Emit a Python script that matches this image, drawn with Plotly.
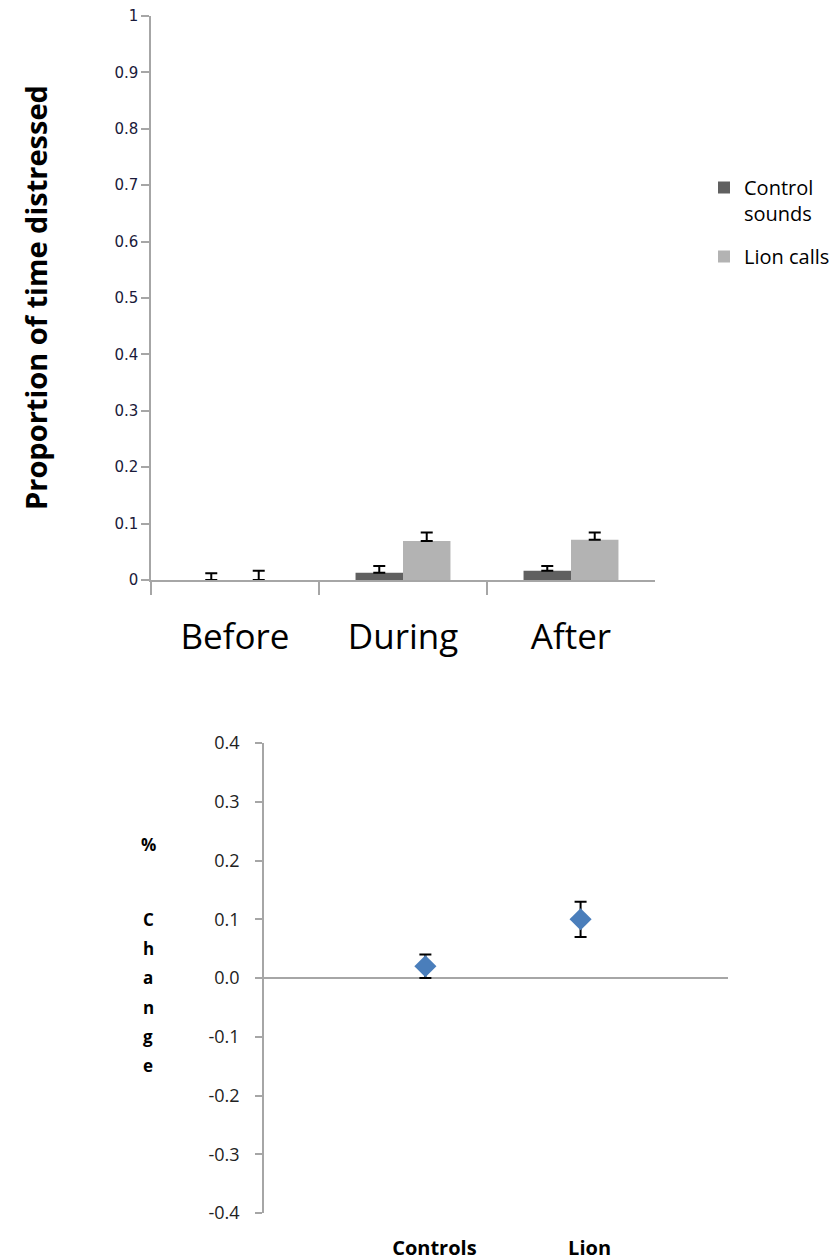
import plotly.graph_objects as go

# ---------------- data ----------------
periods = ["Before", "During", "After"]
control_values = [0.0, 0.013, 0.0165]
control_errors = [0.012, 0.012, 0.0085]
lion_values = [0.0, 0.069, 0.0715]
lion_errors = [0.0165, 0.015, 0.0125]

groups = ["Controls", "Lion"]
group_x = [1, 2]
change_values = [0.02, 0.10]
change_errors = [0.02, 0.03]

y1_tick_values = [0, 0.1, 0.2, 0.3, 0.4, 0.5, 0.6, 0.7, 0.8, 0.9, 1]
y1_tick_labels = ["0", "0.1", "0.2", "0.3", "0.4", "0.5", "0.6", "0.7", "0.8", "0.9", "1"]
y2_tick_values = [-0.4, -0.3, -0.2, -0.1, 0.0, 0.1, 0.2, 0.3, 0.4]
y2_tick_labels = ["-0.4", "-0.3", "-0.2", "-0.1", "0.0", "0.1", "0.2", "0.3", "0.4"]

W, H = 835, 1260
def px_x(p):
    return p / W
def px_y(p):
    return 1 - p / H

CAL = "'Open Sans', Lato, sans-serif"
VER = "'DejaVu Sans', Verdana, sans-serif"
AXIS_COLOR = "#a6a6a6"

fig = go.Figure()

fig.add_trace(go.Bar(
    x=periods, y=control_values, name="Control<br>sounds", legendgroup="control",
    marker=dict(color="#606060", line=dict(width=0)),
    error_y=dict(type="data", symmetric=False, array=control_errors,
                 arrayminus=[0] * len(control_errors),
                 color="black", thickness=2, width=6),
    xaxis="x", yaxis="y",
))
fig.add_trace(go.Bar(
    x=periods, y=lion_values, name="Lion calls", legendgroup="lion",
    marker=dict(color="#b3b3b3", line=dict(width=0)),
    error_y=dict(type="data", symmetric=False, array=lion_errors,
                 arrayminus=[0] * len(lion_errors),
                 color="black", thickness=2, width=6),
    xaxis="x", yaxis="y",
))

fig.add_trace(go.Scatter(
    x=group_x, y=change_values, mode="markers", showlegend=False,
    marker=dict(symbol="diamond", size=17, color="#4a7ebb", line=dict(width=0)),
    error_y=dict(type="data", array=change_errors, color="black", thickness=2, width=6),
    xaxis="x2", yaxis="y2",
))

annotations = [
    dict(text="<b>Proportion of time distressed</b>", x=px_x(35), y=px_y(298),
         xref="paper", yref="paper", textangle=-90, showarrow=False,
         font=dict(family=CAL, size=29, color="black"),
         xanchor="center", yanchor="middle"),
]
letters = [("%", 845), ("C", 919), ("h", 948), ("a", 977), ("n", 1007), ("g", 1036), ("e", 1065)]
for ch, yp in letters:
    annotations.append(dict(text="<b>" + ch + "</b>", x=px_x(148), y=px_y(yp),
                            xref="paper", yref="paper", showarrow=False,
                            font=dict(family=CAL, size=17, color="black"),
                            xanchor="center", yanchor="middle"))

fig.update_layout(
    width=W, height=H,
    margin=dict(l=0, r=0, t=0, b=0, autoexpand=False),
    paper_bgcolor="white", plot_bgcolor="white",
    barmode="group", bargap=0.435, bargroupgap=0,
    showlegend=True,
    legend=dict(x=px_x(704), y=px_y(168), xanchor="left", yanchor="top",
                font=dict(family=CAL, size=20, color="black"),
                bgcolor="rgba(0,0,0,0)", itemwidth=30, valign="top",
                tracegroupgap=14),
    xaxis=dict(domain=[px_x(151), px_x(655)], anchor="y", automargin=False,
               showline=True, linecolor=AXIS_COLOR, linewidth=1.5,
               ticks="outside", ticklen=13, tickcolor=AXIS_COLOR, tickwidth=1.5,
               tickson="boundaries", showgrid=False, zeroline=False,
               tickfont=dict(family=CAL, size=35, color="black"),
               ticklabelstandoff=25),
    yaxis=dict(domain=[px_y(580), px_y(16)], anchor="x", range=[0, 1], automargin=False,
               tickvals=y1_tick_values, ticktext=y1_tick_labels,
               showline=True, linecolor=AXIS_COLOR, linewidth=1.5,
               ticks="outside", ticklen=8, tickcolor=AXIS_COLOR, tickwidth=1.5,
               showgrid=False, zeroline=False,
               tickfont=dict(family=VER, size=15, color="#1a1a3a")),
    xaxis2=dict(domain=[px_x(264), px_x(728)], anchor="y2", range=[-0.04, 2.95],
                automargin=False,
                tickvals=group_x, ticktext=["<b>" + g + "</b>" for g in groups],
                showline=False, showgrid=False, zeroline=False, ticks="",
                tickfont=dict(family=CAL, size=20, color="black"),
                ticklabelstandoff=21, ticklabelshift=9),
    yaxis2=dict(domain=[px_y(1213), px_y(743)], anchor="x2", range=[-0.4, 0.4],
                automargin=False,
                tickvals=y2_tick_values, ticktext=y2_tick_labels,
                showline=True, linecolor=AXIS_COLOR, linewidth=1.5,
                ticks="outside", ticklen=7, tickcolor=AXIS_COLOR, tickwidth=1.5,
                showgrid=False, zeroline=True, zerolinecolor=AXIS_COLOR, zerolinewidth=1.5,
                tickfont=dict(family=CAL, size=18, color="#222"),
                ticklabelstandoff=12),
    annotations=annotations,
)

fig.write_html("out.html")
